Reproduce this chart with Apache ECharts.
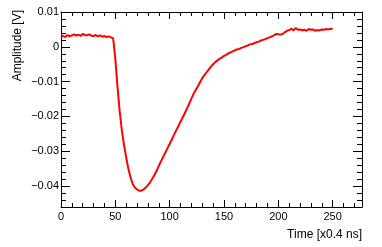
<!DOCTYPE html>
<html>
<head>
<meta charset="utf-8">
<script src="https://cdn.jsdelivr.net/npm/echarts@6/dist/echarts.min.js"></script>
<style>
html,body{margin:0;padding:0;background:#fff;}
#c{width:382px;height:247px;}
</style>
</head>
<body>
<div id="c"></div>
<script>
var xs = [0,2,4,6,8,10,12,14,16,18,20,22,24,26,28,30,32,34,36,38,40,42,44,46,48,50,52,54,56,58,60,62,64,66,68,70,72,74,76,78,80,82,84,86,88,90,92,94,96,98,100,102,104,106,108,110,112,114,116,118,120,122,124,126,128,130,132,134,136,138,140,142,144,146,148,150,152,154,156,158,160,162,164,166,168,170,172,174,176,178,180,182,184,186,188,190,192,194,196,198,200,202,204,206,208,210,212,214,216,218,220,222,224,226,228,230,232,234,236,238,240,242,244,246,248,250];
var amplitude = [0.0033,0.0031,0.0028,0.0034,0.0030,0.0033,0.0036,0.0032,0.0035,0.0031,0.0037,0.0034,0.0033,0.0036,0.0032,0.0031,0.0034,0.0030,0.0033,0.0029,0.0031,0.0028,0.0030,0.0027,
0.0024,-0.0035,-0.0115,-0.0185,-0.0240,-0.0282,-0.0318,-0.0350,-0.0375,-0.0394,-0.0404,-0.0410,-0.0413,-0.0413,-0.0410,-0.0404,-0.0397,-0.0389,-0.0379,-0.0368,-0.0356,-0.0342,-0.0329,-0.0316,-0.0304,-0.0291,
-0.0279,-0.0266,-0.0253,-0.0240,-0.0228,-0.0215,-0.0203,-0.0190,-0.0177,-0.0163,-0.0149,-0.0135,-0.0124,-0.0113,-0.0101,-0.0090,-0.0081,-0.0073,-0.0065,-0.0057,-0.0050,-0.0044,-0.0039,-0.0034,-0.0031,
-0.0026,-0.0023,-0.0019,-0.0016,-0.0013,-0.0010,-0.0007,-0.0006,-0.0003,-0.0001,0.0002,0.0004,0.0007,0.0008,0.0011,0.0013,0.0015,0.0018,0.0020,0.0022,0.0025,0.0027,0.0030,0.0033,0.0037,
0.0036,0.0035,0.0037,0.0042,0.0046,0.0048,0.0052,0.0047,0.0054,0.0049,0.0050,0.0047,0.0049,0.0046,0.0051,0.0049,0.0050,0.0046,0.0048,0.0047,0.0050,0.0049,0.0051,0.0050,0.0052,0.0051];
var xTitle = 'Time [x0.4 ns]';
var yTitle = 'Amplitude [V]';

var FONT = 'Liberation Sans';
var X_MIN = 0, X_MAX = 277, Y_MIN = -0.046, Y_MAX = 0.01;
var axisCol = '#000';

function yFmt(v){
  if (Math.abs(v) < 1e-9) return '0';
  return (v < 0 ? '\u2212' : '') + Math.abs(v).toFixed(2);
}
function xAx(pos, interval, tickLen, showLine, showLabel){
  return {type:'value', min:X_MIN, max:X_MAX, interval:interval, position:pos,
    axisLine:{show:showLine, onZero:false, lineStyle:{color:axisCol, width:1}},
    axisTick:{show:true, inside:true, length:tickLen, lineStyle:{color:axisCol, width:1}},
    axisLabel:{show:showLabel, margin:4, color:'#000', fontFamily:FONT, fontSize:11, showMaxLabel:false},
    splitLine:{show:false}};
}
function yAx(pos, interval, tickLen, showLine, showLabel){
  var a = {type:'value', min:Y_MIN, max:Y_MAX, position:pos,
    axisLine:{show:showLine, onZero:false, lineStyle:{color:axisCol, width:1}},
    axisTick:{show:true, inside:true, length:tickLen, lineStyle:{color:axisCol, width:1}},
    axisLabel:{show:showLabel, margin:2, color:'#000', fontFamily:FONT, fontSize:11, showMinLabel:false, formatter:yFmt},
    splitLine:{show:false}};
  if (interval) a.interval = interval; else a.splitNumber = 5;
  return a;
}

var data = xs.map(function(x,i){ return [x, amplitude[i]]; });

var chart = echarts.init(document.getElementById('c'), null, {renderer:'canvas'});
chart.setOption({
  animation:false,
  backgroundColor:'#fff',
  grid:{left:61, right:20, top:12, bottom:40, containLabel:false},
  xAxis:[
    xAx('bottom', 50, 7, true, true),
    xAx('bottom', 10, 4, false, false),
    xAx('top', 50, 7, true, false),
    xAx('top', 10, 4, false, false)
  ],
  yAxis:[
    yAx('left', null, 9, true, true),
    yAx('left', 0.002, 5, false, false),
    yAx('right', null, 9, true, false),
    yAx('right', 0.002, 5, false, false)
  ],
  series:[{
    type:'line', data:data, xAxisIndex:0, yAxisIndex:0,
    showSymbol:false, symbol:'none',
    lineStyle:{color:'#ff0000', width:2},
    clip:true
  }],
  graphic:[
    {type:'text', x:362, y:235, style:{text:xTitle, textAlign:'right', textVerticalAlign:'middle', fill:'#000', font:'12px "Liberation Sans"'}},
    {type:'text', x:17.5, y:10, rotation:Math.PI/2, style:{text:yTitle, textAlign:'right', textVerticalAlign:'middle', fill:'#000', font:'12px "Liberation Sans"'}}
  ]
});
</script>
</body>
</html>
